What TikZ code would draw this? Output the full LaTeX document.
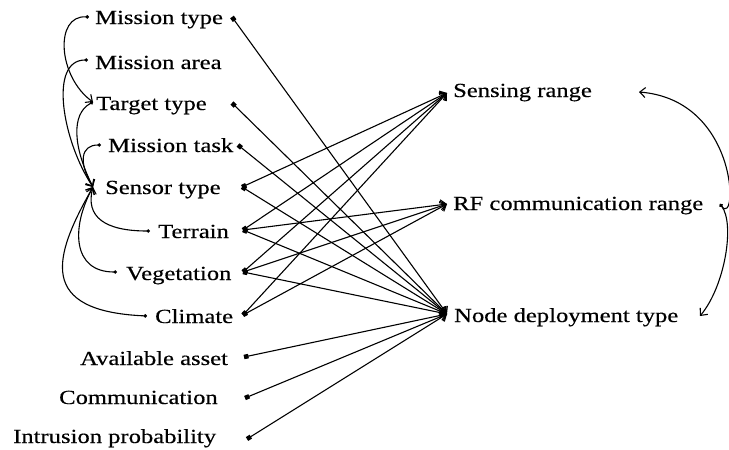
\documentclass[tikz,border=0pt]{standalone}
\usepackage{fontspec}
\setmainfont[FakeStretch=1.23,FakeBold=0.4]{Liberation Serif}
\usetikzlibrary{arrows.meta}
\begin{document}
\begin{tikzpicture}[x=1pt,y=-1pt,
  lbl/.style={anchor=base west, inner sep=0pt, font=\fontsize{20}{24}\selectfont},
  straightlink/.style={line width=1.1pt, {Square[length=4.5pt,width=4.5pt]}-{Straight Barb[length=5.5pt,width=10pt]}},
  curvelink/.style={line width=1.1pt, {Circle[length=3.5pt]}-{Straight Barb[length=5.5pt,width=10pt]}},
]
\useasboundingbox (0,0) rectangle (729,450);
% left labels
\node[lbl] (mt) at (95,24) {Mission type};
\node[lbl] (ma) at (95,69) {Mission area};
\node[lbl] (tt) at (96,110) {Target type};
\node[lbl] (mk) at (108,152) {Mission task};
\node[lbl] (st) at (105,194) {Sensor type};
\node[lbl] (tr) at (158,238) {Terrain};
\node[lbl] (vg) at (126,280) {Vegetation};
\node[lbl] (cl) at (155,323) {Climate};
\node[lbl] (aa) at (80,365) {Available asset};
\node[lbl] (cm) at (59,404) {Communication};
\node[lbl] (ip) at (13,443) {Intrusion probability};
% right labels
\node[lbl] (sr) at (453,97) {Sensing range};
\node[lbl] (rf) at (453,210) {RF communication range};
\node[lbl] (nd) at (454,322) {Node deployment type};
% right-end points of left labels
\coordinate (mt-r) at (232,17);
\coordinate (tt-r) at (232,103);
\coordinate (mk-r) at (238,145);
\coordinate (st-r) at (242,187);
\coordinate (tr-r) at (243,230);
\coordinate (vg-r) at (243,272);
\coordinate (cl-r) at (243,315);
\coordinate (aa-r) at (244,357);
\coordinate (cm-r) at (245,398);
\coordinate (ip-r) at (247,439);
% left-end points of left labels
\coordinate (mt-l) at (89,17);
\coordinate (ma-l) at (88,60);
\coordinate (tt-l) at (93,102);
\coordinate (mk-l) at (101,145);
\coordinate (st-l) at (93,187);
\coordinate (tr-l) at (150,231);
\coordinate (vg-l) at (117,272);
\coordinate (cl-l) at (147,316);
% arrow tips of right labels
\coordinate (sr-l) at (447,93);
\coordinate (rf-l) at (447,204);
\coordinate (nd-l) at (447,314);
\coordinate (sr-r) at (639,92);
\coordinate (rf-r) at (720,204);
\coordinate (nd-r) at (700,316);
% straight links
\draw[straightlink] (mt-r) -- (nd-l);
\draw[straightlink] (tt-r) -- (nd-l);
\draw[straightlink] (mk-r) -- (nd-l);
\draw[straightlink] (st-r) -- (sr-l);
\draw[straightlink] (st-r) -- (nd-l);
\draw[straightlink] (tr-r) -- (sr-l);
\draw[straightlink] (tr-r) -- (rf-l);
\draw[straightlink] (tr-r) -- (nd-l);
\draw[straightlink] (vg-r) -- (sr-l);
\draw[straightlink] (vg-r) -- (rf-l);
\draw[straightlink] (vg-r) -- (nd-l);
\draw[straightlink] (cl-r) -- (sr-l);
\draw[straightlink] (cl-r) -- (rf-l);
\draw[straightlink] (aa-r) -- (nd-l);
\draw[straightlink] (cm-r) -- (nd-l);
\draw[straightlink] (ip-r) -- (nd-l);
% curved links, left
\draw[curvelink] (mt-l) .. controls +(-35,-2) and +(-35,-25) .. (tt-l);
\draw[curvelink] (ma-l) .. controls +(-40,0) and +(-30,-45) .. (st-l);
\draw[curvelink] (tt-l) .. controls +(-22,12) and +(-20,-40) .. (st-l);
\draw[curvelink] (mk-l) .. controls +(-20,0) and +(-15,-25) .. (st-l);
\draw[curvelink] (tr-l) .. controls +(-45,0) and +(-8,30) .. (st-l);
\draw[curvelink] (vg-l) .. controls +(-45,0) and +(-22,40) .. (st-l);
\draw[curvelink] (cl-l) .. controls +(-110,-5) and +(-40,70) .. (st-l);
% curved links, right
\draw[curvelink] (rf-r) .. controls +(18,24) and +(100,8) .. (sr-r);
\draw[curvelink] (rf-r) .. controls +(15,20) and +(25,-30) .. (nd-r);
\end{tikzpicture}
\end{document}
